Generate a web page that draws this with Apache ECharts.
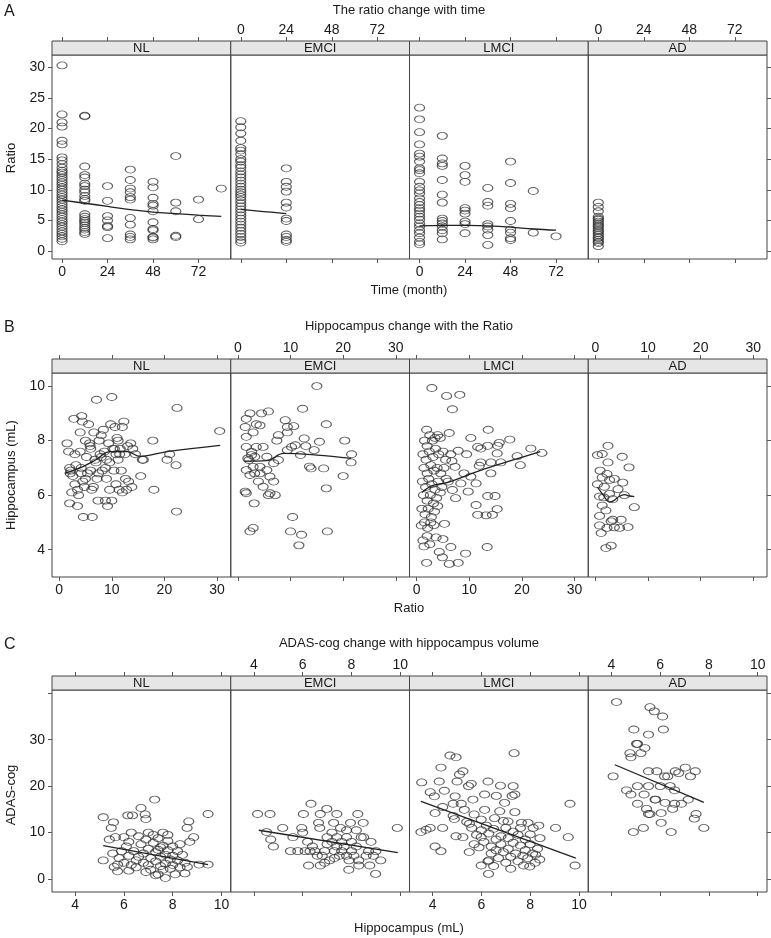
<!DOCTYPE html>
<html>
<head>
<meta charset="utf-8">
<script src="https://cdn.jsdelivr.net/npm/echarts@6/dist/echarts.min.js"></script>
<style>
html, body { margin: 0; padding: 0; background: #fff; }
#main { width: 771px; height: 938px; }
</style>
</head>
<body>
<div id="main"></div>
<script>
// one value column per visit time
function col(x, ys) {
    return ys.map(function (y) { return [x, y]; });
}

const groups = ['NL', 'EMCI', 'LMCI', 'AD'];

// tick values
const timeTicks = [0, 24, 48, 72];
const ratioTicks = [0, 5, 10, 15, 20, 25, 30];
const ratioXTicks = [0, 10, 20, 30];
const hippoTicks = [4, 6, 8, 10];
const adasTicks = [0, 10, 20, 30, 40];
const adasLabels = [0, 10, 20, 30];

// A: ratio vs time (month)
const timeRatioNL = [].concat(
    col(0, [30.3, 22.3, 21.0, 20.3, 18.0, 17.4, 15.3, 14.8, 14.2, 13.6, 13.1, 12.8, 12.4, 12.0, 11.6, 11.2, 10.8, 10.4, 10.0, 9.6, 9.2, 8.8, 8.4, 8.0, 7.6, 7.2, 6.8, 6.4, 6.0, 5.6, 5.2, 4.8, 4.4, 4.0, 3.6, 3.2, 2.8, 2.4, 2.0, 1.6]),
    col(12, [22.1, 22.0, 13.8, 12.4, 12.0, 11.0, 10.6, 10.0, 9.6, 9.0, 8.5, 8.2, 6.0, 5.6, 5.2, 4.9, 4.6, 4.2, 3.8, 3.5, 3.1, 2.8]),
    col(24, [10.6, 8.2, 5.7, 5.0, 4.1, 3.9, 2.1]),
    col(36, [13.3, 11.6, 10.2, 9.6, 8.8, 8.4, 5.4, 4.3, 2.7, 2.3, 1.9]),
    col(48, [11.3, 10.4, 8.7, 7.7, 7.4, 6.5, 4.7, 3.6, 3.4, 2.3, 2.2, 1.9]),
    col(60, [15.5, 7.9, 6.5, 2.5, 2.3]),
    col(72, [8.4, 5.2]),
    col(84, [10.2])
);
const timeRatioEMCI = [].concat(
    col(0, [21.2, 20.2, 19.2, 18.0, 16.8, 16.4, 15.8, 15.0, 14.6, 14.0, 13.6, 13.0, 12.5, 12.0, 11.5, 11.0, 10.5, 10.0, 9.6, 9.2, 8.8, 8.3, 7.8, 7.3, 6.8, 6.3, 5.8, 5.3, 4.8, 4.3, 3.8, 3.3, 2.8, 2.3, 1.8, 1.4]),
    col(24, [13.5, 11.3, 10.5, 9.7, 7.9, 7.1, 5.3, 4.9, 2.7, 2.3, 1.8, 1.5])
);
const timeRatioLMCI = [].concat(
    col(0, [23.4, 21.5, 19.4, 17.4, 15.9, 15.4, 14.6, 13.5, 13.2, 12.7, 11.3, 10.5, 9.9, 9.4, 8.6, 8.0, 7.5, 7.0, 6.6, 6.1, 5.6, 5.1, 4.5, 4.0, 3.4, 2.9, 2.2, 1.5, 1.1]),
    col(12, [18.8, 15.1, 14.3, 13.9, 11.6, 9.2, 7.9, 5.3, 4.9, 4.5, 4.0, 3.4, 2.9, 1.9]),
    col(24, [13.9, 12.4, 11.3, 7.0, 6.6, 6.1, 4.8, 4.4, 2.9]),
    col(36, [10.3, 8.0, 7.4, 4.4, 4.0, 3.5, 2.6, 1.0]),
    col(48, [14.6, 11.1, 7.7, 7.0, 4.9, 3.5, 3.0, 2.1, 1.8]),
    col(60, [9.8, 3.0]),
    col(72, [2.4])
);
const timeRatioAD = col(0, [7.9, 7.2, 6.5, 5.6, 5.3, 5.1, 4.8, 4.5, 4.2, 4.0, 3.7, 3.4, 3.2, 2.9, 2.6, 2.3, 2.1, 1.8, 1.5, 1.3, 0.8]);
const timeRatioNLFit = [[0, 8.3], [12, 7.8], [24, 7.3], [36, 6.75], [48, 6.35], [60, 6.1], [72, 5.85], [84, 5.65]];
const timeRatioEMCIFit = [[0, 6.8], [12, 6.45], [24, 6.1]];
const timeRatioLMCIFit = [[0, 4.1], [12, 4.2], [24, 4.2], [36, 4.1], [48, 3.9], [60, 3.6], [72, 3.4]];

// B: hippocampus (mL) vs ratio
const ratioHippoNL = [
    [1.5, 7.9], [1.8, 7.6], [2.0, 7.0], [2.2, 6.9], [2.1, 6.8], [2.4, 6.1], [2.0, 5.7], [2.8, 8.8], [3.0, 6.4], [3.2, 7.1],
    [3.5, 6.2], [3.5, 5.6], [3.7, 6.0], [4.0, 8.3], [4.3, 8.9], [4.4, 8.7], [4.0, 7.6], [4.2, 7.0], [4.5, 6.5], [4.8, 6.3],
    [4.6, 5.2], [5.0, 8.0], [5.2, 7.4], [5.4, 6.8], [5.6, 8.6], [5.8, 7.9], [5.9, 7.8], [6.0, 6.9], [6.2, 6.2], [6.3, 5.2],
    [6.6, 8.3], [6.8, 7.3], [7.0, 7.2], [7.1, 9.5], [7.2, 6.6], [7.4, 5.8], [7.6, 8.0], [7.8, 7.5], [8.0, 7.4], [8.2, 6.9],
    [8.4, 8.4], [8.6, 7.6], [8.8, 7.0], [8.8, 5.8], [9.0, 6.6], [9.2, 5.6], [9.4, 7.9], [9.6, 7.2], [9.8, 8.6], [10.0, 9.6],
    [10.0, 5.8], [10.2, 7.7], [10.4, 6.9], [10.6, 8.5], [10.8, 7.5], [10.8, 6.4], [11.0, 8.1], [11.2, 7.3], [11.4, 6.2], [11.6, 7.7],
    [11.8, 6.9], [12.0, 8.5], [12.0, 6.1], [12.3, 8.7], [12.5, 7.5], [12.6, 6.6], [12.8, 6.2], [13.0, 7.8], [13.2, 6.5], [13.6, 7.9],
    [13.8, 6.3], [14.0, 7.7], [14.5, 7.5], [15.5, 6.7], [15.8, 7.3], [16.0, 7.3], [17.8, 8.0], [18.0, 6.2], [20.5, 7.3], [21.0, 7.5],
    [22.2, 7.1], [22.4, 9.2], [22.3, 5.4], [30.5, 8.35], [6.0, 7.7], [7.5, 6.8], [9.0, 7.3], [10.5, 7.7], [11.5, 7.5], [5.0, 6.6],
    [3.0, 7.5], [8.0, 8.2], [6.5, 6.3], [4.2, 6.8], [11.2, 8.0], [2.6, 6.7], [9.6, 6.2]
];
const ratioHippoEMCI = [
    [15.0, 10.0], [12.3, 9.17], [16.8, 8.6], [20.3, 8.0], [21.6, 7.5], [21.5, 7.2], [20.0, 6.7], [16.8, 6.25], [16.3, 6.98], [17.0, 4.67],
    [13.9, 6.98], [13.6, 7.05], [10.4, 5.2], [10.0, 4.67], [12.1, 4.55], [11.6, 4.16], [2.9, 4.8], [2.3, 4.67], [3.1, 5.7], [1.6, 6.07],
    [1.4, 6.13], [2.3, 9.0], [1.6, 8.8], [4.5, 9.0], [5.8, 9.07], [3.5, 8.6], [1.4, 8.5], [1.6, 8.14], [2.9, 8.3], [4.2, 8.56],
    [9.0, 8.75], [9.4, 8.5], [10.6, 8.53], [9.4, 8.3], [7.7, 8.2], [7.4, 8.0], [10.9, 7.83], [10.2, 7.77], [12.6, 8.08], [12.9, 7.8],
    [14.5, 7.65], [11.9, 7.47], [15.5, 7.96], [9.4, 7.65], [1.6, 7.77], [2.6, 7.59], [3.2, 7.41], [2.1, 7.29], [2.9, 7.04], [4.8, 7.77],
    [5.5, 7.41], [4.2, 7.04], [3.2, 6.8], [2.3, 6.74], [5.5, 6.92], [6.8, 7.17], [7.7, 7.29], [6.1, 6.68], [6.8, 6.5], [4.8, 6.31],
    [3.9, 6.5], [5.8, 6.0], [7.1, 6.0], [6.1, 6.07], [4.2, 6.8], [1.6, 6.92], [2.6, 7.47], [3.5, 7.77], [1.9, 7.35]
];
const ratioHippoLMCI = [
    [2.9, 9.93], [5.7, 9.64], [8.2, 9.68], [6.8, 9.15], [1.9, 8.4], [6.2, 8.28], [13.6, 8.4], [10.3, 8.1], [17.7, 8.04], [15.7, 7.92],
    [13.5, 7.81], [11.6, 7.77], [12.2, 7.71], [15.4, 7.81], [7.9, 7.63], [9.5, 7.5], [15.3, 7.53], [21.7, 7.71], [23.8, 7.55], [19.1, 7.43],
    [19.7, 7.1], [16.0, 7.2], [14.1, 7.2], [12.2, 7.2], [11.9, 7.08], [14.1, 6.8], [9.0, 6.8], [10.3, 6.68], [11.3, 6.43], [9.8, 6.13],
    [13.5, 5.97], [14.9, 5.97], [11.3, 5.64], [11.6, 5.28], [13.2, 5.26], [14.4, 5.28], [15.3, 5.49], [7.4, 5.89], [13.4, 4.1], [9.3, 3.86],
    [6.5, 4.1], [7.9, 3.52], [6.2, 3.48], [1.9, 3.52], [4.9, 3.72], [4.3, 3.92], [1.4, 4.12], [1.2, 4.34], [3.7, 4.45], [5.0, 4.39],
    [5.3, 4.95], [0.9, 4.89], [6.7, 7.25], [7.3, 7.04], [6.8, 6.19], [8.4, 6.43],
    [1.5, 8.0], [2.0, 7.8], [2.5, 8.2], [3.0, 8.0], [3.5, 8.1], [4.0, 8.2], [4.5, 8.1], [1.2, 7.5], [1.8, 7.3], [2.4, 7.6],
    [3.1, 7.4], [3.6, 7.7], [4.2, 7.5], [5.0, 7.6], [5.5, 7.3], [1.4, 7.0], [2.0, 6.8], [2.7, 7.1], [3.3, 6.9], [3.9, 7.0],
    [4.6, 6.8], [5.2, 7.0], [1.1, 6.5], [1.7, 6.3], [2.3, 6.6], [2.9, 6.4], [3.5, 6.2], [4.1, 6.5], [4.8, 6.3], [5.6, 6.6],
    [1.3, 6.0], [2.0, 5.8], [2.6, 6.0], [3.2, 5.7], [3.8, 5.9], [4.5, 6.1], [1.0, 5.5], [1.6, 5.3], [2.2, 5.5], [2.8, 5.2],
    [3.4, 5.4], [4.0, 5.6], [1.5, 5.0], [2.1, 4.8], [2.7, 5.0], [3.3, 4.9], [2.0, 4.5], [6.0, 6.5], [6.5, 7.5], [2.5, 4.2]
];
const ratioHippoAD = [
    [2.4, 7.81], [0.4, 7.47], [1.3, 7.51], [5.1, 7.41], [2.4, 7.2], [6.4, 7.02], [0.9, 6.9], [2.2, 6.78], [3.6, 6.6], [1.3, 6.65],
    [5.2, 6.46], [0.4, 6.4], [1.7, 6.31], [4.3, 6.22], [2.7, 6.05], [5.5, 6.0], [3.3, 5.85], [1.3, 5.62], [7.4, 5.56], [2.0, 5.44],
    [0.8, 5.24], [3.3, 5.1], [4.9, 5.1], [3.0, 5.04], [0.8, 4.89], [2.2, 4.8], [3.6, 4.82], [4.6, 4.8], [6.2, 4.83], [1.1, 4.61],
    [2.0, 4.06], [3.0, 4.15], [1.6, 5.92], [2.7, 6.56], [0.8, 5.95]
];
const ratioHippoNLFit = [[1.1, 6.8], [4, 7.0], [7, 7.3], [9.7, 7.6], [12.9, 7.6], [15.4, 7.42], [20.5, 7.6], [30.6, 7.83]];
const ratioHippoEMCIFit = [[1.3, 7.25], [5.5, 7.27], [8.7, 7.53], [15, 7.47], [21.5, 7.35]];
const ratioHippoLMCIFit = [[1, 6.1], [3, 6.35], [5.8, 6.46], [12, 6.9], [18.5, 7.3], [23.5, 7.6]];
const ratioHippoADFit = [[0.4, 6.3], [1.5, 6.0], [2.7, 5.75], [3.5, 5.8], [4.5, 5.95], [5.5, 6.02], [6.5, 5.97], [7.4, 5.95]];

// C: ADAS-cog vs hippocampus (mL)
const hippoAdasNL = [
    [5.15, 13.3], [5.57, 12.2], [5.48, 11.0], [6.16, 13.7], [6.35, 13.7], [6.7, 15.3], [6.87, 13.9], [6.9, 12.9], [7.26, 17.1], [8.66, 12.4],
    [8.59, 11.0], [8.86, 9.0], [8.7, 8.0], [9.45, 14.0], [9.45, 3.1], [9.08, 3.1], [5.15, 4.0], [5.74, 1.65], [5.54, 5.5], [5.4, 8.5],
    [5.65, 9.0], [5.74, 3.1],
    [6.0, 9.0], [6.1, 7.0], [6.2, 5.0], [6.3, 3.0], [6.2, 8.0], [6.4, 6.0], [6.5, 4.0], [6.5, 2.5], [6.6, 9.2], [6.7, 7.5],
    [6.8, 5.5], [6.8, 3.5], [6.9, 1.5], [6.9, 8.5], [7.0, 10.0], [7.0, 6.5], [7.1, 4.5], [7.1, 2.0], [7.2, 9.5], [7.2, 7.8],
    [7.3, 5.8], [7.3, 3.8], [7.4, 1.0], [7.4, 8.8], [7.5, 6.8], [7.5, 4.8], [7.5, 2.8], [7.6, 10.0], [7.6, 7.2], [7.7, 5.2],
    [7.7, 3.3], [7.7, 0.2], [7.8, 8.2], [7.8, 6.2], [7.9, 4.2], [7.9, 2.2], [8.0, 7.0], [8.0, 5.0], [8.0, 3.0], [8.1, 1.0],
    [8.2, 6.0], [8.2, 4.0], [8.3, 2.5], [8.4, 5.2], [8.5, 3.5], [8.5, 1.2], [6.0, 3.5], [5.9, 6.0], [5.8, 4.5], [6.3, 10.0],
    [7.3, 0.8], [7.6, 2.0], [7.0, 3.0], [6.6, 4.8], [7.8, 9.5], [8.3, 7.5], [5.6, 2.6], [6.2, 1.8], [7.4, 6.3], [8.6, 2.6]
];
const hippoAdasEMCI = [
    [4.15, 14.0], [4.66, 14.0], [5.18, 11.0], [4.69, 8.5], [4.8, 7.0], [4.52, 10.1], [6.34, 16.2], [6.03, 14.0], [6.99, 15.1], [7.4, 14.0],
    [8.26, 14.0], [8.48, 12.1], [7.96, 12.1], [7.55, 11.0], [7.27, 12.1], [6.72, 14.0], [6.65, 12.1], [5.96, 11.0], [9.88, 11.0], [7.89, 2.0],
    [8.99, 1.1], [6.24, 2.9], [6.72, 2.9], [8.3, 2.9], [8.75, 2.9],
    [6.1, 6.0], [6.3, 6.0], [6.5, 6.0], [6.4, 7.0], [6.2, 8.0], [6.6, 5.0], [6.8, 5.0], [6.9, 6.0], [7.0, 7.5], [7.0, 9.0],
    [7.1, 4.0], [7.2, 8.0], [7.3, 6.0], [7.4, 7.0], [7.4, 9.0], [7.5, 5.0], [7.6, 8.0], [7.6, 6.0], [7.7, 7.0], [7.8, 5.0],
    [7.8, 9.0], [7.9, 4.0], [8.0, 6.0], [8.0, 8.0], [8.1, 5.0], [8.2, 7.0], [8.3, 4.0], [8.4, 9.0], [8.5, 9.0], [8.6, 5.0],
    [8.7, 6.0], [8.9, 5.0], [9.0, 6.0], [9.2, 4.0], [5.8, 6.0], [5.6, 9.0], [5.5, 6.0], [6.0, 10.0], [6.7, 11.0], [7.2, 10.0],
    [7.8, 10.5], [6.9, 3.5], [7.3, 4.5], [8.8, 8.0], [8.2, 10.5]
];
const hippoAdasLMCI = [
    [4.71, 26.6], [4.96, 26.2], [7.34, 27.1], [4.34, 24.0], [5.24, 23.2], [5.1, 22.5], [3.55, 20.8], [4.27, 21.0], [5.0, 21.0], [5.58, 20.5],
    [5.47, 20.0], [6.27, 21.0], [6.78, 20.1], [7.3, 20.0], [3.9, 18.7], [4.48, 19.0], [4.07, 17.8], [4.92, 17.8], [4.84, 16.2], [5.17, 16.2],
    [5.65, 17.1], [6.13, 18.2], [6.61, 17.9], [6.95, 16.4], [7.26, 17.9], [7.37, 18.2], [9.63, 16.2], [4.1, 14.2], [4.41, 15.5], [4.84, 13.6],
    [5.3, 14.9], [5.7, 13.9], [6.13, 14.9], [6.75, 14.6], [7.37, 14.4], [4.41, 11.0], [3.52, 10.1], [3.73, 10.6], [3.9, 11.0], [4.89, 12.9],
    [5.51, 11.9], [5.99, 12.8], [6.54, 13.1], [7.09, 12.4], [7.64, 12.1], [7.91, 12.1], [8.12, 11.0], [8.35, 11.5], [9.04, 11.0], [9.56, 9.0],
    [9.84, 2.9], [4.1, 7.0], [4.34, 6.0], [4.96, 9.2], [5.24, 9.0], [5.99, 9.0], [6.27, 3.8], [5.99, 2.9], [6.29, 1.1], [7.73, 2.9],
    [7.98, 2.7], [8.39, 4.2], [8.22, 5.2],
    [5.6, 11.0], [5.8, 9.5], [6.0, 10.5], [6.1, 8.0], [6.2, 11.5], [6.3, 9.8], [6.4, 7.0], [6.4, 5.5], [6.5, 10.8], [6.6, 8.5],
    [6.6, 6.2], [6.7, 4.5], [6.8, 9.2], [6.8, 7.5], [6.9, 5.8], [7.0, 11.0], [7.0, 3.5], [7.1, 8.8], [7.1, 6.5], [7.2, 4.8],
    [7.3, 10.2], [7.3, 7.8], [7.4, 5.5], [7.5, 9.5], [7.5, 3.8], [7.6, 7.2], [7.7, 5.0], [7.8, 8.5], [7.8, 6.2], [7.9, 4.5],
    [8.0, 9.6], [8.0, 7.5], [8.1, 5.5], [8.2, 3.5], [8.3, 6.5], [8.4, 8.8], [6.3, 4.0], [5.7, 7.5], [5.5, 5.8], [6.5, 2.8],
    [7.2, 2.2], [6.9, 12.5], [5.9, 6.8], [7.6, 11.0], [5.4, 12.3]
];
const hippoAdasAD = [
    [4.21, 38.1], [5.58, 37.0], [5.76, 36.1], [6.1, 35.0], [4.92, 32.2], [6.13, 32.2], [5.52, 31.1], [5.03, 29.1], [5.07, 29.1], [5.37, 28.2],
    [4.76, 27.1], [5.21, 27.1], [4.8, 26.2], [4.07, 22.1], [5.52, 23.2], [5.86, 23.2], [6.18, 22.1], [6.31, 22.1], [6.62, 23.2], [7.03, 24.0],
    [7.44, 23.2], [7.24, 22.1], [6.76, 22.8], [4.62, 19.1], [4.8, 18.2], [5.07, 20.0], [5.52, 20.0], [6.0, 20.0], [6.41, 20.0], [6.59, 19.1],
    [5.34, 18.2], [5.81, 17.1], [5.07, 16.2], [5.44, 15.1], [5.52, 14.0], [5.58, 14.0], [6.2, 16.4], [6.51, 15.1], [6.87, 16.2], [7.15, 17.1],
    [6.59, 16.2], [6.04, 14.2], [7.47, 14.0], [7.4, 13.0], [7.79, 11.0], [4.9, 10.1], [5.31, 11.0], [6.04, 12.1], [6.45, 10.1], [5.79, 17.1]
];
const hippoAdasNLFit = [[5.15, 7.2], [9.45, 3.1]];
const hippoAdasEMCIFit = [[4.2, 10.5], [9.9, 5.7]];
const hippoAdasLMCIFit = [[3.52, 16.7], [9.87, 4.5]];
const hippoAdasADFit = [[4.14, 24.6], [7.79, 16.5]];

// rows of the lattice
const rows = [
    {
        letter: 'A', title: 'The ratio change with time', xName: 'Time (month)', yName: 'Ratio',
        data: [timeRatioNL, timeRatioEMCI, timeRatioLMCI, timeRatioAD],
        fits: [timeRatioNLFit, timeRatioEMCIFit, timeRatioLMCIFit, null],
        xMin: -5.3, xMax: 89, yMin: -1.3, yMax: 32,
        xTicks: timeTicks, yTicks: ratioTicks, yLabels: ratioTicks
    },
    {
        letter: 'B', title: 'Hippocampus change with the Ratio', xName: 'Ratio', yName: 'Hippocampus (mL)',
        data: [ratioHippoNL, ratioHippoEMCI, ratioHippoLMCI, ratioHippoAD],
        fits: [ratioHippoNLFit, ratioHippoEMCIFit, ratioHippoLMCIFit, ratioHippoADFit],
        xMin: -1.35, xMax: 32.6, yMin: 3.0, yMax: 10.48,
        xTicks: ratioXTicks, yTicks: hippoTicks, yLabels: hippoTicks
    },
    {
        letter: 'C', title: 'ADAS-cog change with hippocampus volume', xName: 'Hippocampus (mL)', yName: 'ADAS-cog',
        data: [hippoAdasNL, hippoAdasEMCI, hippoAdasLMCI, hippoAdasAD],
        fits: [hippoAdasNLFit, hippoAdasEMCIFit, hippoAdasLMCIFit, hippoAdasADFit],
        xMin: 3.05, xMax: 10.38, yMin: -2.8, yMax: 40.7,
        xTicks: hippoTicks, yTicks: adasTicks, yLabels: adasLabels
    }
];

// layout (pixels)
const panelLeft = [52, 230.75, 409.5, 588.25];
const panelW = 178.75;
const stripH = 14;
const rowBox = [
    { stripTop: 41, bottom: 259, titleY: 10, xNameY: 290, yNameY: 158 },
    { stripTop: 359, bottom: 577, titleY: 326, xNameY: 608, yNameY: 475 },
    { stripTop: 676, bottom: 892, titleY: 643, xNameY: 928, yNameY: 795 }
];
const FONT = 'Liberation Sans, Arial, sans-serif';
const INK = '#1a1a1a';
const ellipse = 'path://M0,1A1,1 0 1 1 2,1A1,1 0 1 1 0,1Z';

const grid = [], xAxis = [], yAxis = [], series = [], graphic = [];
const tickStyle = { show: true, length: 4, lineStyle: { color: '#555', width: 1 } };
const labelStyle = { color: INK, fontSize: 14, fontFamily: FONT };
const noLine = { show: false, onZero: false };

rows.forEach(function (row, r) {
    const box = rowBox[r];
    const top = box.stripTop + stripH;
    const h = box.bottom - top;

    graphic.push({ type: 'text', x: 4, y: box.titleY + 2, style: { text: row.letter, fill: INK, font: '16px ' + FONT, textVerticalAlign: 'middle' } });
    graphic.push({ type: 'text', x: 409, y: box.titleY, style: { text: row.title, fill: INK, font: '13px ' + FONT, textAlign: 'center', textVerticalAlign: 'middle' } });
    graphic.push({ type: 'text', x: 409, y: box.xNameY, style: { text: row.xName, fill: INK, font: '13px ' + FONT, textAlign: 'center', textVerticalAlign: 'middle' } });
    graphic.push({ type: 'text', x: 11, y: box.yNameY, rotation: Math.PI / 2, style: { text: row.yName, fill: INK, font: '13px ' + FONT, textAlign: 'center', textVerticalAlign: 'middle' } });

    groups.forEach(function (g, c) {
        const k = r * 4 + c;
        grid.push({ left: panelLeft[c], top: top, width: panelW, height: h, show: true, borderColor: '#444', borderWidth: 1, backgroundColor: 'transparent' });

        // strip
        graphic.push({ type: 'rect', shape: { x: panelLeft[c], y: box.stripTop, width: panelW, height: stripH }, style: { fill: '#e6e6e6', stroke: '#444', lineWidth: 1 } });
        graphic.push({ type: 'text', x: panelLeft[c] + panelW / 2, y: box.stripTop + stripH / 2 + 0.5, style: { text: g, fill: INK, font: '13px ' + FONT, textAlign: 'center', textVerticalAlign: 'middle' } });

        const base = { gridIndex: k, type: 'value', min: row.xMin, max: row.xMax, axisLine: noLine, splitLine: { show: false } };
        xAxis.push(Object.assign({}, base, {
            position: 'bottom',
            axisTick: Object.assign({ customValues: row.xTicks }, tickStyle),
            axisLabel: Object.assign({ show: c % 2 === 0, customValues: row.xTicks, margin: 6 }, labelStyle)
        }));
        xAxis.push(Object.assign({}, base, {
            position: 'top', offset: stripH,
            axisTick: Object.assign({ customValues: row.xTicks }, tickStyle),
            axisLabel: Object.assign({ show: c % 2 === 1, customValues: row.xTicks, margin: 4 }, labelStyle)
        }));
        yAxis.push({
            gridIndex: k, type: 'value', min: row.yMin, max: row.yMax,
            position: c === 3 ? 'right' : 'left',
            axisLine: noLine, splitLine: { show: false },
            axisTick: Object.assign({ customValues: row.yTicks }, tickStyle, { show: c === 0 || c === 3 }),
            axisLabel: Object.assign({ show: c === 0, customValues: row.yLabels, margin: 7 }, labelStyle)
        });

        series.push({
            type: 'scatter', xAxisIndex: k * 2, yAxisIndex: k,
            data: row.data[c], symbol: ellipse, symbolSize: [10, 7],
            itemStyle: { color: 'rgba(0,0,0,0)', borderColor: '#333', borderWidth: 1 },
            emphasis: { disabled: true }, silent: true
        });
        if (row.fits[c]) {
            series.push({
                type: 'line', xAxisIndex: k * 2, yAxisIndex: k,
                data: row.fits[c], smooth: 0.4, showSymbol: false, symbol: 'none',
                lineStyle: { color: '#222', width: 1.3 }, silent: true, z: 3
            });
        }
    });
});

const chart = echarts.init(document.getElementById('main'), null, { renderer: 'canvas' });
chart.setOption({
    animation: false,
    backgroundColor: '#fff',
    grid: grid,
    xAxis: xAxis,
    yAxis: yAxis,
    series: series,
    graphic: graphic
});
</script>
</body>
</html>
